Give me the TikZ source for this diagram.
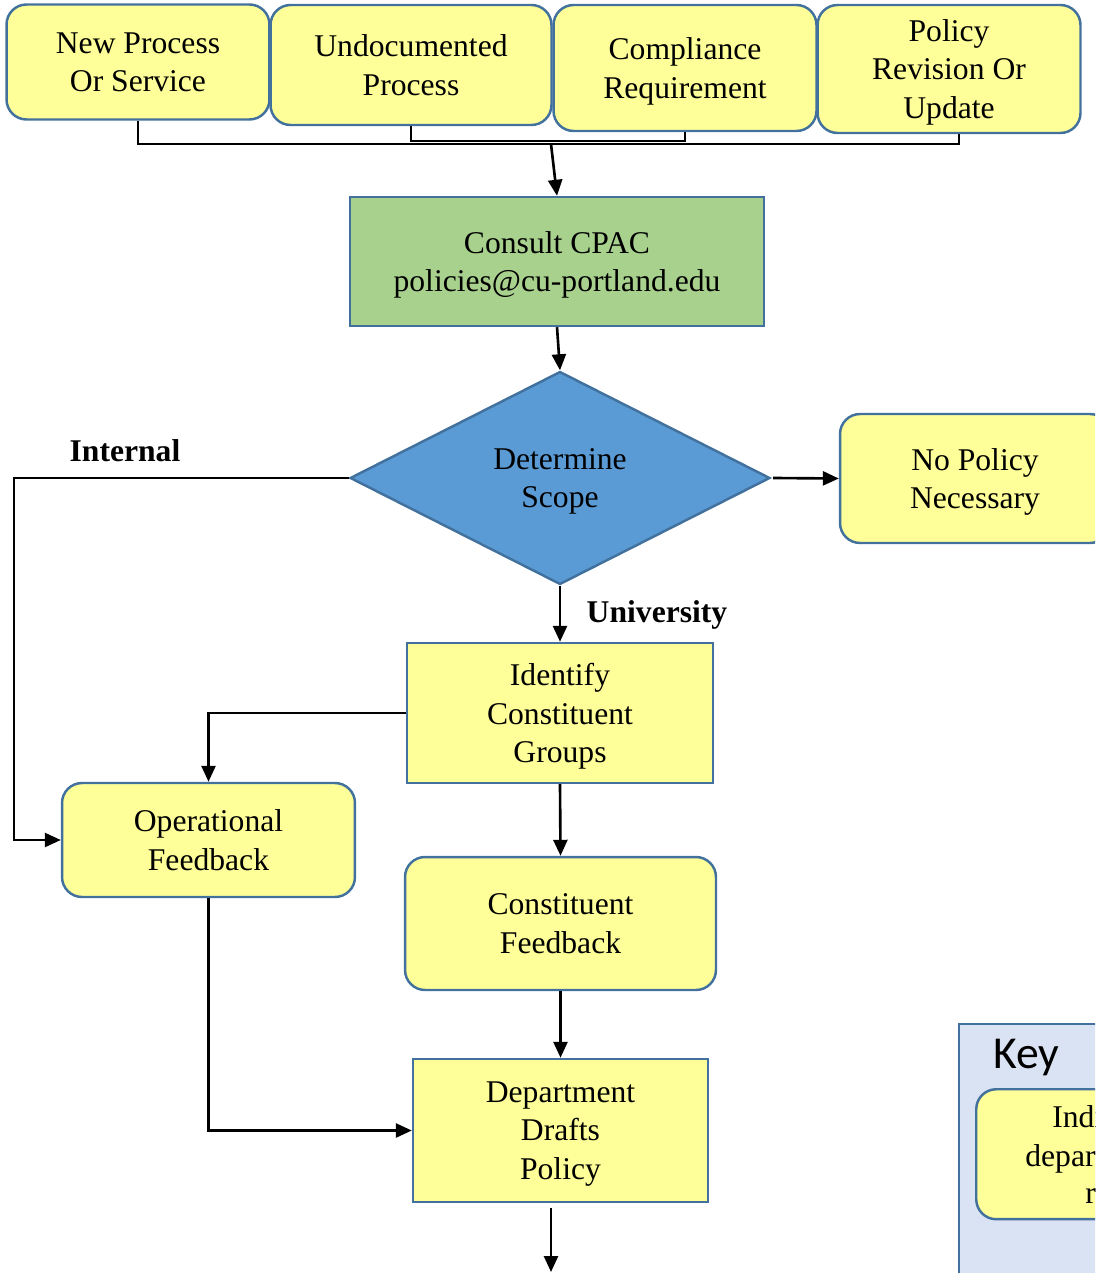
\documentclass[tikz,border=0pt]{standalone}
\usepackage{fontspec}
\setmainfont{Liberation Serif}
\newfontfamily\keyfont{Carlito}
\usetikzlibrary{shapes.geometric,arrows.meta}

\definecolor{boxyellow}{HTML}{FFFF99}
\definecolor{boxedge}{HTML}{41719C}
\definecolor{consultgreen}{HTML}{A9D18E}
\definecolor{scopeblue}{HTML}{5B9BD5}
\definecolor{keyblue}{HTML}{DAE3F3}

\begin{document}
\begin{tikzpicture}[x=0.02cm, y=-0.02cm,
		every node/.style={font=\fontsize{18}{22}\selectfont, align=center},
		stepbox/.style={draw=boxedge, line width=1.4pt, fill=boxyellow, inner sep=0pt, text depth=-2pt},
		roundbox/.style={stepbox, rounded corners=0.4cm},
		lbl/.style={font=\fontsize{18}{22}\selectfont\bfseries},
		arr/.style={-{Triangle[length=0.32cm,width=0.28cm]}, line width=1.5pt}]
	\clip (0,0) rectangle (1095,1273);

	% Sources
	\node[roundbox, minimum width=5.26cm, minimum height=2.3cm] (newproc) at (138,62) {New Process\\Or Service};
	\node[roundbox, minimum width=5.62cm, minimum height=2.4cm] (undoc) at (411,65) {Undocumented\\Process};
	\node[roundbox, minimum width=5.26cm, minimum height=2.52cm] (comply) at (685,68) {Compliance\\Requirement};
	\node[roundbox, minimum width=5.26cm, minimum height=2.56cm] (revise) at (949,69) {Policy\\Revision Or\\Update};

	% Main flow
	\node[stepbox, fill=consultgreen, minimum width=8.28cm, minimum height=2.58cm] (consult) at (557,261.5) {Consult CPAC\\policies@cu-portland.edu};
	\node[stepbox, fill=scopeblue, shape=diamond, minimum width=8.4cm, minimum height=4.26cm] (scope) at (560,478) {Determine\\Scope};
	\node[roundbox, minimum width=5.4cm, minimum height=2.58cm] (nopolicy) at (975,478.5) {No Policy\\Necessary};
	\node[stepbox, minimum width=6.12cm, minimum height=2.8cm] (identify) at (560,713) {Identify\\Constituent\\Groups};
	\node[roundbox, minimum width=5.86cm, minimum height=2.28cm] (opfeed) at (208.5,840) {Operational\\Feedback};
	\node[roundbox, minimum width=6.22cm, minimum height=2.66cm] (confeed) at (560.5,923.5) {Constituent\\Feedback};
	\node[stepbox, minimum width=5.9cm, minimum height=2.86cm] (drafts) at (560.5,1130.5) {Department\\Drafts\\Policy};

	% Labels
	\node[lbl] (internal) at (125,451) {Internal};
	\node[lbl] (university) at (657,615) {University};

	% Collect sources
	\coordinate (bus) at (551,144);
	\coordinate (busup) at (685,141);
	\draw[line width=0.6pt] (newproc.south) |- (bus) -| ([xshift=0.2cm]revise.south);
	\draw[line width=0.6pt] (undoc.south) |- (busup) -- (comply.south);
	\draw[arr] (bus) -- (consult.north);

	% Connectors
	\coordinate (leftrail) at (14,478);
	\coordinate (outflow) at (551,1272);
	\draw[arr] (consult.south) -- (scope.north);
	\draw[arr] ([xshift=0.04cm]scope.east) -- (nopolicy.west);
	\draw[arr] (scope.west) -- (leftrail) |- (opfeed.west);
	\draw[arr] (scope.south) -- (identify.north);
	\draw[arr] (identify.west) -| (opfeed.north);
	\draw[arr] (identify.south) -- (confeed.north);
	\draw[arr] (confeed.south) -- (drafts.north);
	\draw[arr] (opfeed.south) |- (drafts.west);
	\draw[arr] ([yshift=-0.1cm]drafts.south -| outflow) -- (outflow);

	% Key
	\node[draw=boxedge, line width=1.4pt, fill=keyblue, minimum width=8cm, minimum height=6cm, anchor=north west] (keybox) at (958,1023) {};
	\node[font=\keyfont\fontsize{26}{30}\selectfont, anchor=base west, inner sep=0pt] (keytitle) at (993,1068) {Key};
	\node[roundbox, minimum width=8cm, minimum height=2.6cm, anchor=north west] (keyitem) at (975,1088) {};
	\node[anchor=base west, inner sep=0pt] (keyline1) at (1052,1127) {Indi};
	\node[anchor=base west, inner sep=0pt] (keyline2) at (1025,1166) {depar};
	\node[anchor=base west, inner sep=0pt] (keyline3) at (1085,1203) {re};
\end{tikzpicture}
\end{document}
